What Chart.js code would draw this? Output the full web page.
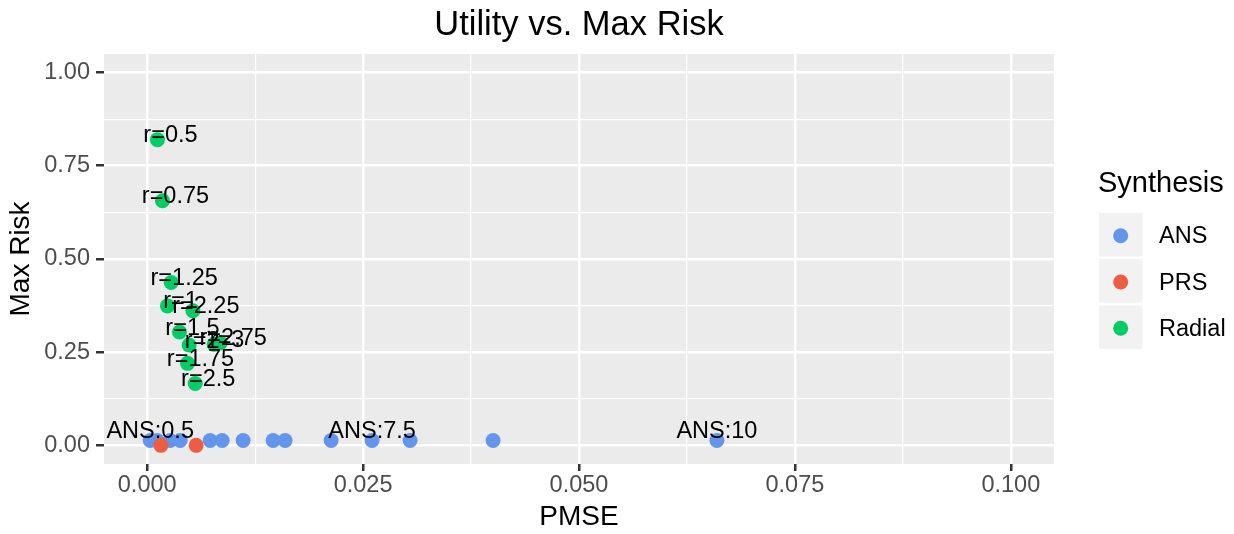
<!DOCTYPE html>
<html>
<head>
<meta charset="utf-8">
<script src="https://cdn.jsdelivr.net/npm/chart.js@4/dist/chart.umd.min.js"></script>
<style>
  html, body { margin: 0; padding: 0; background: #ffffff; }
  #wrap { width: 1234px; height: 534px; }
</style>
</head>
<body>
<div id="wrap"><canvas id="riskChart" width="1234" height="534"></canvas></div>
<script>
// Data
const ansPmse = [0.00035, 0.00116, 0.00266, 0.00382, 0.00729, 0.00868, 0.01111, 0.01458, 0.01597, 0.0213, 0.02604, 0.03044, 0.04005, 0.06597];
const ansRisk = [0.013, 0.013, 0.013, 0.013, 0.013, 0.013, 0.013, 0.013, 0.013, 0.013, 0.013, 0.013, 0.013, 0.013];
const ansLabels = ['ANS:0.5', '', '', '', '', '', '', '', '', '', 'ANS:7.5', '', '', 'ANS:10'];

const prsPmse = [0.00159, 0.00567];
const prsRisk = [0, 0];

const radialPmse = [0.00119, 0.00177, 0.00235, 0.00278, 0.00374, 0.00467, 0.00486, 0.00529, 0.00556, 0.00845, 0.00775];
const radialRisk = [0.820, 0.656, 0.374, 0.437, 0.304, 0.220, 0.269, 0.361, 0.166, 0.275, 0.271];
const radialLabels = ['r=0.5', 'r=0.75', 'r=1', 'r=1.25', 'r=1.5', 'r=1.75', 'r=2', 'r=2.25', 'r=2.5', 'r=2.75', 'r=3'];

const xTicks = [0, 0.025, 0.05, 0.075, 0.1];
const xMinor = [0.0125, 0.0375, 0.0625, 0.0875];
const yTicks = [0, 0.25, 0.5, 0.75, 1];
const yMinor = [0.125, 0.375, 0.625, 0.875];

const seriesNames = ['ANS', 'PRS', 'Radial'];
const seriesColors = ['#6495ED', '#EE5C42', '#00CD66'];

const FONT = '"Liberation Sans", Arial, Helvetica, sans-serif';
Chart.defaults.font.family = FONT;

function toPoints(xs, ys) {
    return xs.map((x, i) => ({ x: x, y: ys[i] }));
}

// gray panel + white page
const panelBg = {
    id: 'panelBg',
    beforeDraw(chart) {
        const { ctx, chartArea: a } = chart;
        ctx.save();
        ctx.fillStyle = '#ffffff';
        ctx.fillRect(0, 0, chart.width, chart.height);
        ctx.fillStyle = '#ebebeb';
        ctx.fillRect(a.left, a.top, a.right - a.left, a.bottom - a.top);
        ctx.restore();
    }
};

// text labels next to the points (geom_text)
const pointLabels = {
    id: 'pointLabels',
    afterDatasetsDraw(chart) {
        const ctx = chart.ctx;
        ctx.save();
        ctx.font = '23.5px ' + FONT;
        ctx.fillStyle = '#000000';
        ctx.textAlign = 'center';
        ctx.textBaseline = 'middle';
        chart.data.datasets.forEach((ds, di) => {
            if (!ds.labels) return;
            const meta = chart.getDatasetMeta(di);
            meta.data.forEach((pt, i) => {
                const txt = ds.labels[i];
                if (!txt) return;
                ctx.fillText(txt, pt.x + ds.labelDx, pt.y + ds.labelDy);
            });
        });
        ctx.restore();
    }
};

// ggplot style legend on the right
const sideLegend = {
    id: 'sideLegend',
    afterDraw(chart) {
        const ctx = chart.ctx;
        ctx.save();
        ctx.fillStyle = '#000000';
        ctx.textBaseline = 'middle';
        ctx.textAlign = 'left';
        ctx.font = '29px ' + FONT;
        ctx.fillText('Synthesis', 1098, 184);
        ctx.font = '23.5px ' + FONT;
        seriesNames.forEach((name, i) => {
            const top = 213 + i * 46.2;
            ctx.fillStyle = '#f2f2f2';
            ctx.fillRect(1099, top, 43.5, 43.5);
            ctx.fillStyle = seriesColors[i];
            ctx.beginPath();
            ctx.arc(1120.7, top + 22.8, 7.5, 0, Math.PI * 2);
            ctx.fill();
            ctx.fillStyle = '#000000';
            ctx.fillText(name, 1159, top + 24);
        });
        ctx.restore();
    }
};

const isMajor = (list, v) => list.some(t => Math.abs(t - v) < 1e-9);

const chart = new Chart(document.getElementById('riskChart'), {
    type: 'scatter',
    data: {
        datasets: [
            {
                label: 'ANS',
                data: toPoints(ansPmse, ansRisk),
                labels: ansLabels,
                labelDx: 0,
                labelDy: -9,
                backgroundColor: seriesColors[0],
                pointRadius: 7.5,
                pointHoverRadius: 7.5,
                borderWidth: 0,
                order: 3
            },
            {
                label: 'PRS',
                data: toPoints(prsPmse, prsRisk),
                backgroundColor: seriesColors[1],
                pointRadius: 7.5,
                pointHoverRadius: 7.5,
                borderWidth: 0,
                order: 2
            },
            {
                label: 'Radial',
                data: toPoints(radialPmse, radialRisk),
                labels: radialLabels,
                labelDx: 13,
                labelDy: -4,
                backgroundColor: seriesColors[2],
                pointRadius: 7.5,
                pointHoverRadius: 7.5,
                borderWidth: 0,
                order: 1
            }
        ]
    },
    options: {
        responsive: false,
        animation: false,
        events: [],
        layout: { padding: { left: 0, top: 0, right: 180, bottom: 0 } },
        plugins: {
            legend: { display: false },
            tooltip: { enabled: false },
            title: {
                display: true,
                text: 'Utility vs. Max Risk',
                color: '#000000',
                fullSize: false,
                font: { size: 34.5, weight: 'normal', lineHeight: 1.2 },
                padding: { top: 4.5, bottom: 8 }
            }
        },
        scales: {
            x: {
                type: 'linear',
                min: -0.005,
                max: 0.105,
                afterFit: s => { s.height = 70; },
                afterBuildTicks: s => {
                    s.ticks = xTicks.concat(xMinor).sort((a, b) => a - b).map(v => ({ value: v }));
                },
                border: { display: false },
                grid: {
                    color: '#ffffff',
                    lineWidth: c => isMajor(xTicks, c.tick.value) ? 2.5 : 1.2,
                    tickColor: c => isMajor(xTicks, c.tick.value) ? '#333333' : 'rgba(0,0,0,0)',
                    tickWidth: 2.5,
                    tickLength: 7
                },
                ticks: {
                    autoSkip: false,
                    maxRotation: 0,
                    padding: 0,
                    color: '#4d4d4d',
                    font: { size: 23.5, lineHeight: 1.2 },
                    callback: v => isMajor(xTicks, v) ? v.toFixed(3) : ''
                },
                title: {
                    display: true,
                    text: 'PMSE',
                    color: '#000000',
                    font: { size: 28, lineHeight: 1.2 },
                    padding: { top: 0, bottom: 0 }
                }
            },
            y: {
                type: 'linear',
                min: -0.05,
                max: 1.05,
                afterFit: s => { s.width = 104; },
                afterBuildTicks: s => {
                    s.ticks = yTicks.concat(yMinor).sort((a, b) => a - b).map(v => ({ value: v }));
                },
                border: { display: false },
                grid: {
                    color: '#ffffff',
                    lineWidth: c => isMajor(yTicks, c.tick.value) ? 2.5 : 1.2,
                    tickColor: c => isMajor(yTicks, c.tick.value) ? '#333333' : 'rgba(0,0,0,0)',
                    tickWidth: 2.5,
                    tickLength: 8
                },
                ticks: {
                    autoSkip: false,
                    padding: 6,
                    color: '#4d4d4d',
                    font: { size: 23.5, lineHeight: 1.2 },
                    callback: v => isMajor(yTicks, v) ? v.toFixed(2) : ''
                },
                title: {
                    display: true,
                    text: 'Max Risk',
                    color: '#000000',
                    font: { size: 28, lineHeight: 1.2 },
                    padding: { top: 4, bottom: 0 }
                }
            }
        }
    },
    plugins: [panelBg, pointLabels, sideLegend]
});
</script>
</body>
</html>
